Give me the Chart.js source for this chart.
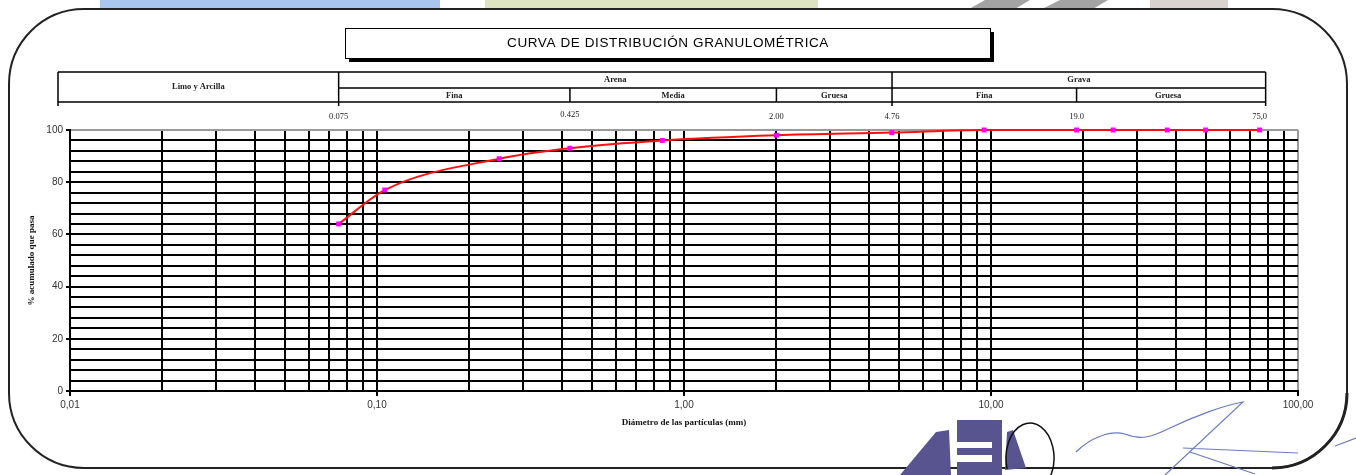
<!DOCTYPE html>
<html lang="es">
<head>
<meta charset="utf-8">
<title>Curva de distribución granulométrica</title>
<script src="https://cdn.jsdelivr.net/npm/chart.js@4.4.1/dist/chart.umd.min.js"></script>
<style>
  html, body { margin: 0; padding: 0; background: #fff; }
  #wrap { width: 1356px; height: 475px; position: relative; }
</style>
</head>
<body>
<div id="wrap"><canvas id="granulometria" width="1356" height="475"></canvas></div>
<script>
const chartTitle = 'CURVA DE DISTRIBUCIÓN GRANULOMÉTRICA';

// abertura del tamiz (mm) y % que pasa
const sieveSizes = [0.075, 0.106, 0.25, 0.425, 0.85, 2.0, 4.75, 9.5, 19.0, 25.0, 37.5, 50.0, 75.0];
const percentPassing = [64, 77, 89, 93, 96, 98, 99, 100, 100, 100, 100, 100, 100];

const xTickValues = [0.01, 0.1, 1, 10, 100];
const xTickLabels = ['0,01', '0,10', '1,00', '10,00', '100,00'];
const yTickValues = [0, 20, 40, 60, 80, 100];
const yTickLabels = ['0', '20', '40', '60', '80', '100'];

// limites de la clasificacion (mm)
const limitValues = [0.075, 0.425, 2.0, 4.76, 19.0, 75.0];
const limitLabels = ['0.075', '0.425', '2.00', '4.76', '19.0', '75,0'];
const groupNames = ['Limo y Arcilla', 'Arena', 'Grava'];
const subNames = ['Fina', 'Media', 'Gruesa', 'Fina', 'Gruesa'];

// lineas de la grilla logaritmica: 1..9 por decada
const gridValues = [];
for (let e = -2; e <= 1; e++) {
    for (let m = 1; m <= 9; m++) {
        gridValues.push(Number((m * Math.pow(10, e)).toPrecision(6)));
    }
}
gridValues.push(100);

const same = (a, b) => Math.abs(a - b) / b < 1e-6;

const points = sieveSizes
    .map((d, i) => ({ x: d, y: percentPassing[i] }))
    .sort((a, b) => a.x - b.x);

const pageDecor = {
    id: 'pageDecor',
    beforeDraw(chart) {
        const c = chart.ctx;
        c.save();
        c.fillStyle = '#fff';
        c.fillRect(0, 0, chart.width, chart.height);
        // franjas del membrete
        c.fillStyle = '#a9c7ec';
        c.fillRect(100, 0, 340, 9);
        c.fillStyle = '#dde2c0';
        c.fillRect(485, 0, 333, 9);
        c.fillStyle = '#a3a3a3';
        c.beginPath();
        c.moveTo(985, 0); c.lineTo(1030, 0); c.lineTo(1015, 9); c.lineTo(969, 9); c.closePath(); c.fill();
        c.beginPath();
        c.moveTo(1060, 0); c.lineTo(1108, 0); c.lineTo(1093, 9); c.lineTo(1042, 9); c.closePath(); c.fill();
        c.fillStyle = '#d9d2ce';
        c.fillRect(1150, 0, 78, 9);
        c.restore();
    },
    afterDraw(chart) {
        const c = chart.ctx;
        const xs = chart.scales.x;
        const px = v => xs.getPixelForValue(v);
        c.save();

        // marco redondeado
        c.strokeStyle = '#222';
        c.lineWidth = 2;
        c.beginPath();
        c.roundRect(9, 9, 1338, 459, 75);
        c.stroke();
        c.lineWidth = 3;
        c.beginPath();
        c.arc(1272, 393, 75, 0, Math.PI / 2);
        c.stroke();

        // titulo
        c.fillStyle = '#000';
        c.fillRect(990, 32, 4, 30);
        c.fillRect(349, 58, 645, 4);
        c.lineWidth = 1;
        c.strokeStyle = '#000';
        c.strokeRect(345.5, 28.5, 645, 30);
        c.font = '13.5px "Liberation Sans", Arial, sans-serif';
        c.textAlign = 'center';
        c.textBaseline = 'middle';
        c.letterSpacing = '0.6px';
        c.fillText(chartTitle, 668, 43);
        c.letterSpacing = '0px';

        // tabla de clasificacion
        const left = chart.chartArea.left - 12;
        const right = px(75) + 6;
        const top = 72, mid = 88, bot = 102;
        c.lineWidth = 1.5;
        c.beginPath();
        c.moveTo(left, top); c.lineTo(right, top);
        c.moveTo(px(limitValues[0]), mid); c.lineTo(right, mid);
        c.moveTo(left, bot); c.lineTo(right, bot);
        [left, px(limitValues[0]), px(limitValues[3]), right].forEach(x => {
            c.moveTo(x, top); c.lineTo(x, bot + 4);
        });
        [1, 2, 4].forEach(i => {
            c.moveTo(px(limitValues[i]), mid); c.lineTo(px(limitValues[i]), bot);
        });
        c.stroke();

        c.fillStyle = '#222';
        c.font = 'bold 8.5px "Liberation Serif", "Times New Roman", serif';
        c.fillText(groupNames[0], (left + px(limitValues[0])) / 2, 87);
        c.fillText(groupNames[1], (px(limitValues[0]) + px(limitValues[3])) / 2, 80);
        c.fillText(groupNames[2], (px(limitValues[3]) + right) / 2, 80);
        subNames.forEach((name, i) => {
            c.fillText(name, (px(limitValues[i]) + px(limitValues[i + 1])) / 2, 95.5);
        });
        c.font = '8.5px "Liberation Serif", "Times New Roman", serif';
        limitLabels.forEach((lab, i) => {
            c.fillText(lab, px(limitValues[i]), i === 1 ? 115 : 117);
        });

        // sello
        c.fillStyle = '#58548f';
        c.beginPath();
        c.moveTo(900, 475); c.lineTo(936, 432); c.lineTo(949, 430); c.lineTo(951, 475); c.closePath(); c.fill();
        c.fillRect(957, 420, 45, 55);
        c.fillStyle = '#fff';
        c.fillRect(951, 442, 41, 6);
        c.fillRect(951, 455, 41, 7);
        c.fillStyle = '#58548f';
        c.beginPath();
        c.moveTo(1007, 432); c.lineTo(1013, 430); c.lineTo(1026, 468); c.lineTo(1005, 470); c.closePath(); c.fill();
        c.strokeStyle = '#111';
        c.lineWidth = 1.5;
        c.beginPath();
        c.ellipse(1030, 458, 24, 35, 0, Math.PI * 0.9, Math.PI * 2.2);
        c.stroke();

        // firma
        c.strokeStyle = '#6a7bc6';
        c.lineWidth = 1.2;
        c.beginPath();
        c.moveTo(1076, 452);
        c.bezierCurveTo(1090, 438, 1110, 430, 1125, 434);
        c.bezierCurveTo(1140, 440, 1150, 438, 1170, 428);
        c.bezierCurveTo(1195, 416, 1225, 405, 1243, 402);
        c.lineTo(1165, 475);
        c.moveTo(1183, 448); c.lineTo(1298, 453);
        c.moveTo(1190, 452); c.lineTo(1255, 474);
        c.moveTo(1335, 446); c.lineTo(1356, 438);
        c.stroke();

        c.restore();
    }
};

const ctx = document.getElementById('granulometria').getContext('2d');
Chart.defaults.font.family = '"Liberation Sans", Arial, sans-serif';

const curveChart = new Chart(ctx, {
    type: 'scatter',
    data: {
        datasets: [{
            data: points,
            showLine: true,
            borderColor: '#ff1010',
            borderWidth: 2,
            cubicInterpolationMode: 'monotone',
            pointStyle: 'rect',
            pointRadius: 3.5,
            pointBackgroundColor: '#ff00ff',
            pointBorderColor: '#ff00ff',
            pointBorderWidth: 0,
            clip: false
        }]
    },
    options: {
        responsive: false,
        animation: false,
        events: [],
        layout: { padding: { top: 130, left: 22, right: 58, bottom: 0 } },
        plugins: {
            legend: { display: false },
            tooltip: { enabled: false }
        },
        scales: {
            x: {
                type: 'logarithmic',
                min: 0.01,
                max: 100,
                afterBuildTicks: scale => {
                    scale.ticks = gridValues.map(v => ({ value: v }));
                },
                afterFit: scale => { scale.height = 84; },
                grid: {
                    color: c => c.tick && same(c.tick.value, 100) ? '#9a9a9a' : '#000',
                    lineWidth: 2,
                    tickLength: 5,
                    tickColor: c => xTickValues.some(t => same(c.tick.value, t)) ? '#000' : 'rgba(0,0,0,0)'
                },
                border: { color: '#000', width: 2 },
                ticks: {
                    autoSkip: false,
                    maxRotation: 0,
                    padding: 3,
                    color: '#333',
                    font: { size: 10 },
                    callback: v => {
                        const i = xTickValues.findIndex(t => same(v, t));
                        return i >= 0 ? xTickLabels[i] : '';
                    }
                },
                title: {
                    display: true,
                    text: 'Diámetro de las partículas (mm)',
                    color: '#111',
                    font: { family: '"Liberation Serif", "Times New Roman", serif', size: 9, weight: 'bold' },
                    padding: { top: 0, bottom: 47 }
                }
            },
            y: {
                min: 0,
                max: 100,
                afterFit: scale => { scale.width = 48; },
                grid: {
                    color: c => c.tick && c.tick.value === 100 ? '#9a9a9a' : '#000',
                    lineWidth: 2,
                    tickLength: 4,
                    tickColor: c => yTickValues.includes(c.tick.value) ? '#000' : 'rgba(0,0,0,0)'
                },
                border: { color: '#000', width: 2 },
                ticks: {
                    stepSize: 4,
                    autoSkip: false,
                    padding: 3,
                    color: '#333',
                    font: { size: 10 },
                    callback: v => {
                        const i = yTickValues.indexOf(v);
                        return i >= 0 ? yTickLabels[i] : '';
                    }
                },
                title: {
                    display: true,
                    text: '% acumulado que pasa',
                    color: '#111',
                    font: { family: '"Liberation Serif", "Times New Roman", serif', size: 9, weight: 'bold' },
                    padding: { top: 4, bottom: 0 }
                }
            }
        }
    },
    plugins: [pageDecor]
});
</script>
</body>
</html>
